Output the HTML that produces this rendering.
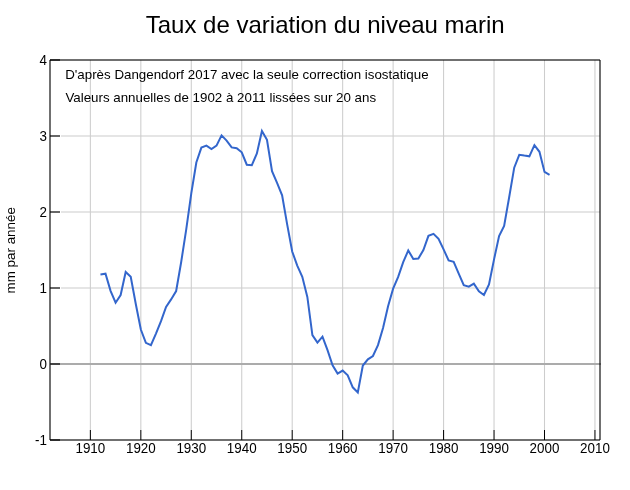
<!DOCTYPE html>
<html lang="fr"><head><meta charset="utf-8"><title>Taux de variation du niveau marin</title>
<style>
html,body{margin:0;padding:0;background:#fff;}
body{width:630px;height:490px;overflow:hidden;}
svg{will-change:transform;display:block;font-family:"Liberation Sans",Arial,sans-serif;fill:#000;}
</style></head><body>
<svg width="630" height="490" viewBox="0 0 630 490">
<rect width="630" height="490" fill="#fff"/>
<g stroke="#e5e5e5" stroke-width="2" fill="none"><line x1="61" y1="288.00" x2="600" y2="288.00"/><line x1="61" y1="212.00" x2="600" y2="212.00"/><line x1="61" y1="136.00" x2="600" y2="136.00"/></g>
<g stroke="#cdcdcd" stroke-width="1.05" fill="none"><line x1="90.37" y1="60" x2="90.37" y2="430"/><line x1="140.83" y1="60" x2="140.83" y2="430"/><line x1="191.28" y1="60" x2="191.28" y2="430"/><line x1="241.74" y1="60" x2="241.74" y2="430"/><line x1="292.20" y1="60" x2="292.20" y2="430"/><line x1="342.66" y1="60" x2="342.66" y2="430"/><line x1="393.12" y1="60" x2="393.12" y2="430"/><line x1="443.58" y1="60" x2="443.58" y2="430"/><line x1="494.04" y1="60" x2="494.04" y2="430"/><line x1="544.50" y1="60" x2="544.50" y2="430"/><line x1="594.95" y1="60" x2="594.95" y2="430"/></g>
<g stroke="#000" stroke-opacity="0.56" stroke-width="2"><line x1="50" y1="60" x2="600" y2="60"/><line x1="50" y1="440" x2="600" y2="440"/><line x1="50" y1="60" x2="50" y2="440"/><line x1="600" y1="60" x2="600" y2="440"/></g>
<line x1="51" y1="364" x2="599" y2="364" stroke="#ababab" stroke-width="2"/>
<line x1="599" y1="364" x2="601" y2="364" stroke="#000" stroke-opacity="0.33" stroke-width="2"/>
<polyline fill="none" stroke="#3366cc" stroke-width="2" stroke-linejoin="miter" points="100.46,274.47 105.50,273.71 110.55,290.81 115.60,302.74 120.64,295.07 125.69,272.04 130.73,276.83 135.78,303.96 140.83,329.50 145.87,342.87 150.92,345.08 155.96,333.60 161.01,321.14 166.06,307.00 171.10,299.40 176.15,291.04 181.19,262.01 186.24,229.40 191.28,193.38 196.33,162.52 201.38,147.63 206.42,145.65 211.47,149.00 216.51,145.65 221.56,135.39 226.61,140.56 231.65,147.40 236.70,148.16 241.74,152.34 246.79,164.73 251.83,165.26 256.88,153.48 261.93,130.91 266.97,139.80 272.02,171.11 277.06,182.82 282.11,195.28 287.16,224.39 292.20,251.52 297.25,265.58 302.29,276.75 307.34,296.89 312.39,335.12 317.43,342.64 322.48,336.72 327.52,350.17 332.57,365.22 337.61,373.58 342.66,370.61 347.71,375.25 352.75,387.33 357.80,392.35 362.84,365.52 367.89,359.36 372.94,356.02 377.98,345.15 383.03,328.05 388.07,306.24 393.12,288.68 398.17,276.90 403.21,262.16 408.26,250.46 413.30,258.97 418.35,258.51 423.39,250.08 428.44,235.86 433.49,233.89 438.53,238.90 443.58,249.32 448.62,260.49 453.67,261.86 458.72,273.56 463.76,285.26 468.81,286.63 473.85,283.59 478.90,291.19 483.94,294.99 488.99,284.50 494.04,259.35 499.08,236.02 504.13,225.98 509.17,197.26 514.22,167.69 519.27,154.77 524.31,155.61 529.36,156.29 534.40,145.12 539.45,151.81 544.50,171.87 549.54,174.76"/>
<g stroke="#000" stroke-width="1.2"><line x1="50" y1="440.00" x2="60" y2="440.00"/><line x1="50" y1="364.00" x2="60" y2="364.00"/><line x1="50" y1="288.00" x2="60" y2="288.00"/><line x1="50" y1="212.00" x2="60" y2="212.00"/><line x1="50" y1="136.00" x2="60" y2="136.00"/><line x1="50" y1="60.00" x2="60" y2="60.00"/></g>
<g stroke="#000" stroke-width="1.05"><line x1="90.37" y1="440" x2="90.37" y2="430"/><line x1="140.83" y1="440" x2="140.83" y2="430"/><line x1="191.28" y1="440" x2="191.28" y2="430"/><line x1="241.74" y1="440" x2="241.74" y2="430"/><line x1="292.20" y1="440" x2="292.20" y2="430"/><line x1="342.66" y1="440" x2="342.66" y2="430"/><line x1="393.12" y1="440" x2="393.12" y2="430"/><line x1="443.58" y1="440" x2="443.58" y2="430"/><line x1="494.04" y1="440" x2="494.04" y2="430"/><line x1="544.50" y1="440" x2="544.50" y2="430"/><line x1="594.95" y1="440" x2="594.95" y2="430"/></g>
<g font-size="13.4px"><text transform="translate(90.37,452.6) scale(1,1.06)" text-anchor="middle">1910</text><text transform="translate(140.83,452.6) scale(1,1.06)" text-anchor="middle">1920</text><text transform="translate(191.28,452.6) scale(1,1.06)" text-anchor="middle">1930</text><text transform="translate(241.74,452.6) scale(1,1.06)" text-anchor="middle">1940</text><text transform="translate(292.20,452.6) scale(1,1.06)" text-anchor="middle">1950</text><text transform="translate(342.66,452.6) scale(1,1.06)" text-anchor="middle">1960</text><text transform="translate(393.12,452.6) scale(1,1.06)" text-anchor="middle">1970</text><text transform="translate(443.58,452.6) scale(1,1.06)" text-anchor="middle">1980</text><text transform="translate(494.04,452.6) scale(1,1.06)" text-anchor="middle">1990</text><text transform="translate(544.50,452.6) scale(1,1.06)" text-anchor="middle">2000</text><text transform="translate(594.95,452.6) scale(1,1.06)" text-anchor="middle">2010</text><text transform="translate(47,444.80) scale(1,1.06)" text-anchor="end">-1</text><text transform="translate(47,368.80) scale(1,1.06)" text-anchor="end">0</text><text transform="translate(47,292.80) scale(1,1.06)" text-anchor="end">1</text><text transform="translate(47,216.80) scale(1,1.06)" text-anchor="end">2</text><text transform="translate(47,140.80) scale(1,1.06)" text-anchor="end">3</text><text transform="translate(47,64.80) scale(1,1.06)" text-anchor="end">4</text></g>
<text x="325.2" y="33" font-size="24px" text-anchor="middle">Taux de variation du niveau marin</text>
<text x="65.2" y="79.3" font-size="13.34px">D'après Dangendorf 2017 avec la seule correction isostatique</text>
<text x="65.4" y="102.3" font-size="13.34px">Valeurs annuelles de 1902 à 2011 lissées sur 20 ans</text>
<text transform="translate(14.6,250.3) rotate(-90)" font-size="13.4px" text-anchor="middle">mm par année</text>
</svg>
</body></html>
